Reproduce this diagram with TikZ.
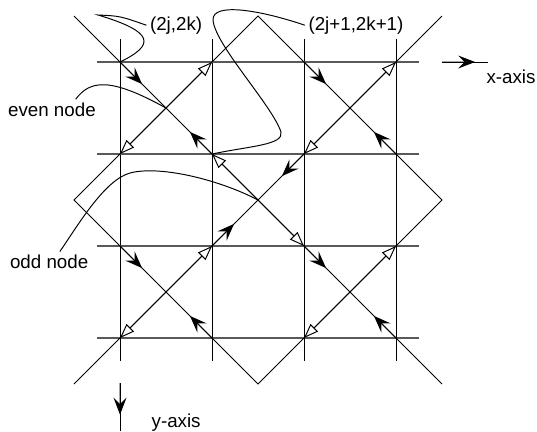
\documentclass[tikz,border=0pt]{standalone}
\usepackage{fontspec}
\setmainfont{Liberation Sans}
\usetikzlibrary{arrows.meta,calc}

\begin{document}
\begin{tikzpicture}
		[line width=0.6pt, font=\fontsize{11.6}{13}\selectfont,
		 hgrid/.style = {draw=black!65, line width=0.8pt},
		 fillarr/.style = {-{Stealth[length=10.5pt,width=8pt,inset=4pt]}},
		 openarr/.style = {{Triangle[fill=white,length=9pt,width=6.5pt]}-{Triangle[fill=white,length=9pt,width=6.5pt]}},
		 lbl/.style = {inner sep=2pt}]
        \useasboundingbox (-5.609,-5.022) rectangle (6.065,4.348);
        % lattice points and the two marked nodes
        \foreach \i in {0,...,3}
            \foreach \j in {0,...,3}
                \coordinate (g\i\j) at ({2*\i-3},{3-2*\j});
        \coordinate (even) at (-2,2);
        \coordinate (odd) at (0,0);

        % grid
        \foreach \v in {-3,-1,1,3} {
            \draw[hgrid] (-3.5,\v) -- (3.5,\v);
            \draw (\v,-3.5) -- (\v,3.5);
        }
        % diagonals and diamond
        \draw (-4,4) -- (4,-4);
        \draw (-4,-4) -- (4,4);
        \draw (0,4) -- (4,0) -- (0,-4) -- (-4,0) -- cycle;

        % arrows in the cells
        \foreach \a/\b/\c/\d in {g00/g11/g01/g10, g20/g31/g21/g30, g02/g13/g03/g12, g22/g33/g23/g32, g12/g21/g11/g22} {
            \draw[fillarr] (\a) -- ($(\a)!0.24!(\b)$);
            \draw[fillarr] (\b) -- ($(\b)!0.24!(\a)$);
            \draw[openarr] (\c) -- (\d);
        }

        % axes
        \coordinate (xs) at (4,3);
        \coordinate (xe) at (5,3);
        \coordinate (ys) at (-3,-3.98);
        \coordinate (ye) at (-3,-5.02);
        \draw (xs) -- (xe);
        \draw[fillarr] (xs) -- ($(xs)!0.72!(xe)$);
        \draw (ys) -- (ye);
        \draw[fillarr] (ys) -- ($(ys)!0.66!(ye)$);
        \node[lbl] (xl) at (5.5,2.67) {x-axis};
        \node[lbl] (yl) at (-1.78,-4.83) {y-axis};

        % labels
        \node[lbl] (lab1) at (-1.78,3.80) {(2j,2k)};
        \node[lbl] (lab2) at (2.13,3.80) {(2j+1,2k+1)};
        \node[lbl] (lab3) at (-4.48,1.96) {even node};
        \node[lbl] (lab4) at (-4.54,-1.35) {odd node};

        % leaders
        \draw (lab1.west) .. controls (-3.0,4.0) .. (-3.478,4.022)
              .. controls (-2.239,3.652) and (-2.239,3.370) .. (g00);
        \draw (lab2.west) .. controls (0.043,4.13) and (-1.0,4.304) .. (-0.978,3.913)
              .. controls (-0.935,3.370) and (0.304,2.065) .. (0.5,1.478)
              .. controls (0.565,1.196) and (-0.174,1.174) .. (g11);
        \draw ($(lab3.north)!0.5!(lab3.north east)$) .. controls (-3.652,2.609) and (-3.217,2.674) .. (even);
        \draw ($(lab4.north)!0.25!(lab4.north east)$) .. controls (-3.870,-0.478) and (-3.326,0.435) .. (-2.783,0.587)
              .. controls (-2.130,0.761) and (-0.826,0.435) .. (odd);
	\end{tikzpicture}
\end{document}
